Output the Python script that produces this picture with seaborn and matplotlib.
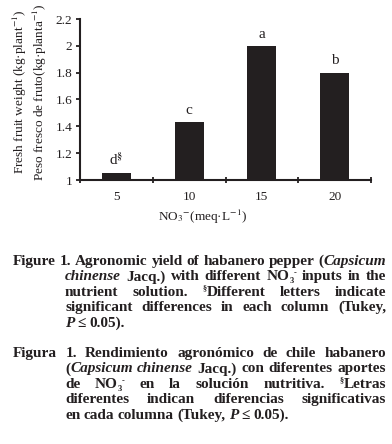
import re
import pandas as pd
import matplotlib.pyplot as plt
import seaborn as sns

# datos
nitrate = ["5", "10", "15", "20"]
weight = [1.05, 1.43, 2.00, 1.80]
letters = ["d", "c", "a", "b"]
marks = [r"$^{\S}$", "", "", ""]
yticks = [1.0, 1.2, 1.4, 1.6, 1.8, 2.0, 2.2]
ytick_labels = ["1", "1.2", "1.4", "1.6", "1.8", "2", "2.2"]

caption_en = [
    "Figure 1. Agronomic yield of habanero pepper ({i:Capsicum}",
    "{i:chinense} Jacq.) with different NO{sub:3}{sup:-} inputs in the",
    "nutrient solution. {sup:§}Different letters indicate",
    "significant differences in each column (Tukey,",
    "{i:P} ≤ 0.05).",
]
caption_es = [
    "Figura 1. Rendimiento agronómico de chile habanero",
    "({i:Capsicum} {i:chinense} Jacq.) con diferentes aportes",
    "de NO{sub:3}{sup:-} en la solución nutritiva. {sup:§}Letras",
    "diferentes indican diferencias significativas",
    "en cada columna (Tukey, {i:P} ≤ 0.05).",
]

INK = "#231f20"
SERIF = ["Liberation Serif", "DejaVu Serif"]
W, H = 392, 444

sns.set_style("ticks")
plt.rcParams["font.family"] = SERIF
plt.rcParams["mathtext.fontset"] = "stix"
plt.rcParams["text.color"] = INK
plt.rcParams["axes.edgecolor"] = INK
plt.rcParams["xtick.color"] = INK
plt.rcParams["ytick.color"] = INK

df = pd.DataFrame({"NO3": nitrate, "peso": weight})

fig = plt.figure(figsize=(W / 100, H / 100), dpi=100)
ax = fig.add_axes([80 / W, 1 - 180 / H, (371 - 80) / W, (180 - 19) / H])

sns.barplot(data=df, x="NO3", y="peso", color=INK, saturation=1, width=0.4, ax=ax)
for p in ax.patches:
    p.set_edgecolor("none")

ax.set_ylim(1, 2.2)
ax.set_xlim(-0.5, 3.5)
ax.set_yticks(yticks, ytick_labels)
ax.set_xticks(range(len(nitrate)), nitrate)
ax.set_xticks([-0.5, 0.5, 1.5, 2.5, 3.5], minor=True)
ax.tick_params(axis="y", direction="out", length=3, width=1.3, pad=2.4, labelsize=9.5)
ax.tick_params(axis="x", which="major", length=0, pad=8, labelsize=9.5)
ax.tick_params(axis="x", which="minor", direction="inout", length=5, width=1.3)
sns.despine(ax=ax)
for s in ["left", "bottom"]:
    ax.spines[s].set_linewidth(1.5)
ax.set_xlabel("")
ax.set_ylabel("")

for i, (v, l, m) in enumerate(zip(weight, letters, marks)):
    ax.annotate(l + m, (i, v), xytext=(0, 6), textcoords="offset points",
                ha="center", va="baseline", fontsize=11)

fig.text(30 / W, 1 - 92 / H,
         "Fresh fruit weight (kg·plant$^{-1}$)\nPeso fresco de fruto(kg·planta$^{-1}$)",
         rotation=90, ha="center", va="center", fontsize=9.5, linespacing=1.15)
fig.text(203 / W, 1 - 217 / H, "NO$_3$$^{-}$(meq·L$^{-1}$)",
         ha="center", va="center", fontsize=9.5)

# pie de figura justificado
renderer = fig.canvas.get_renderer()
SEG = re.compile(r"\{(i|sub|sup):([^}]*)\}")


def segments(word):
    out, pos = [], 0
    for m in SEG.finditer(word):
        if m.start() > pos:
            out.append((word[pos:m.start()], "n"))
        out.append((m.group(2), m.group(1)))
        pos = m.end()
    if pos < len(word):
        out.append((word[pos:], "n"))
    return out


def place_line(line, x0, x1, base, justify, size=11):
    words, widths = [], []
    for w in line.split(" "):
        parts, wsum = [], 0
        for text, kind in segments(w):
            kw = dict(fontsize=size, fontweight="bold", ha="left", va="baseline")
            dy = 0
            if kind == "i":
                kw["fontstyle"] = "italic"
            if kind in ("sub", "sup"):
                kw["fontsize"] = size * 0.55
                dy = -3 if kind == "sub" else 5
            t = fig.text(0, 0, text, **kw)
            parts.append((t, wsum, dy))
            wsum += t.get_window_extent(renderer).width
        words.append(parts)
        widths.append(wsum)
    gap = (x1 - x0 - sum(widths)) / (len(words) - 1) if justify else 3.5
    gap = max(gap, 2.5)
    x = x0
    for parts, wd in zip(words, widths):
        for t, off, dy in parts:
            t.set_position(((x + off) / W, 1 - (base - dy) / H))
        x += wd + gap


for block, top in [(caption_en, 260), (caption_es, 352)]:
    for k, line in enumerate(block):
        x0 = 13 if k == 0 else 65
        last = k == len(block) - 1
        place_line(line, x0, 386, top + 5 + k * 15.4, not last)

plt.savefig("out.png", dpi=100)
plt.close()
